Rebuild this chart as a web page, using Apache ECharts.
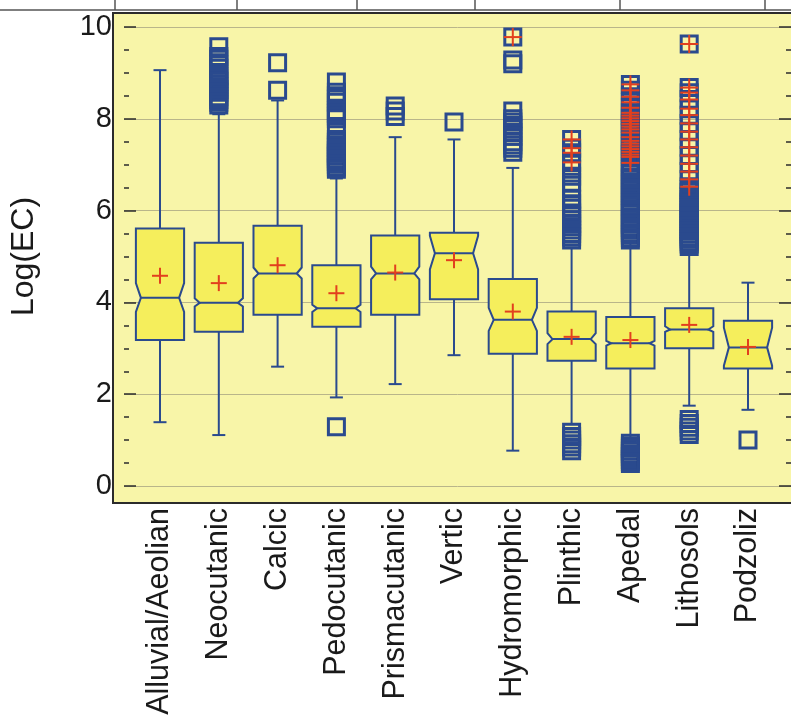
<!DOCTYPE html>
<html>
<head>
<meta charset="utf-8">
<script src="https://cdn.jsdelivr.net/npm/echarts@6/dist/echarts.min.js"></script>
<style>
  html, body { margin: 0; padding: 0; background: #ffffff; }
  #chart { width: 791px; height: 722px; }
</style>
</head>
<body>
<div id="chart"></div>
<script>
// Soil groups and their Log(EC) distributions (notched box plots)
const categories = ['Alluvial/Aeolian', 'Neocutanic', 'Calcic', 'Pedocutanic', 'Prismacutanic',
  'Vertic', 'Hydromorphic', 'Plinthic', 'Apedal', 'Lithosols', 'Podzoliz'];

const whiskerLow  = [1.39, 1.11, 2.60, 1.93, 2.22, 2.85, 0.77, 1.35, 0.98, 1.75, 1.66];
const q1          = [3.18, 3.36, 3.73, 3.47, 3.73, 4.07, 2.88, 2.73, 2.56, 3.00, 2.56];
const median      = [4.10, 3.99, 4.63, 3.87, 4.63, 5.07, 3.62, 3.20, 3.11, 3.41, 3.02];
const q3          = [5.61, 5.30, 5.67, 4.81, 5.46, 5.52, 4.51, 3.80, 3.68, 3.87, 3.60];
const whiskerHigh = [9.06, 8.10, 8.40, 6.70, 7.60, 7.55, 6.93, 5.20, 5.30, 5.15, 4.43];
const notchLow    = [3.79, 3.91, 4.52, 3.79, 4.50, 4.72, 3.38, 3.09, 3.06, 3.36, 2.62];
const notchHigh   = [4.42, 4.09, 4.76, 3.95, 4.78, 5.45, 3.88, 3.33, 3.16, 3.48, 3.45];
const mean        = [4.58, 4.42, 4.81, 4.20, 4.65, 4.92, 3.80, 3.25, 3.18, 3.51, 3.03];

// Outside points (beyond 1.5 IQR)
const outside = [
  [],
  [9.57, 9.36, 9.30, 9.17, 9.10, 8.93, 8.88, 8.82, 8.76, 8.70, 8.64, 8.58, 8.48, 8.42, 8.36, 8.30],
  [9.22, 8.62],
  [8.80, 8.58, 8.50, 8.43, 8.36, 8.18, 8.12, 8.06, 8.00, 7.76, 7.55, 7.49, 7.43, 7.37, 7.31,
   7.25, 7.19, 7.13, 7.07, 7.01, 6.95, 6.90, 1.29],
  [8.28, 8.17, 8.05],
  [7.93],
  [9.28, 9.20, 8.17, 8.00, 7.93, 7.86, 7.78, 7.70, 7.62, 7.50, 7.43, 7.36, 7.27],
  [6.90, 6.75, 6.62, 6.47, 6.25, 6.15, 6.05, 5.95, 5.88, 5.80, 5.72, 5.65, 5.58, 5.50, 5.43, 5.36,
   1.17, 1.08, 1.00, 0.92, 0.85, 0.77],
  [6.97, 6.91, 6.86, 6.80, 6.73, 6.69, 6.62, 6.57, 6.50, 6.45, 6.39, 6.33, 6.28, 6.21, 6.16,
   6.10, 6.04, 5.99, 5.93, 5.86, 5.81, 5.75, 5.70, 5.63, 5.58, 5.52, 5.47, 5.41, 5.36,
   0.93, 0.87, 0.82, 0.76, 0.70, 0.64, 0.58, 0.53, 0.49],
  [6.46, 6.40, 6.30, 6.24, 6.18, 6.12, 6.06, 6.00, 5.95, 5.89, 5.83, 5.78, 5.72, 5.66, 5.60,
   5.55, 5.49, 5.43, 5.38, 5.32, 5.27, 5.22, 1.45, 1.36, 1.28, 1.20, 1.12],
  [1.00]
];

// Far outside points (beyond 3 IQR), drawn with a cross inside the square
const farOutside = [
  [], [], [], [], [], [],
  [9.78],
  [7.55, 7.36, 7.26, 7.05],
  [8.75, 8.62, 8.48, 8.36, 8.24, 8.13, 8.07, 8.01, 7.95, 7.89, 7.83, 7.77, 7.70,
   7.60, 7.52, 7.46, 7.40, 7.34, 7.28, 7.22, 7.17, 7.04],
  [9.63, 8.68, 8.57, 8.42, 8.22, 8.08, 7.90, 7.72, 7.55, 7.38, 7.20, 7.02, 6.85, 6.68, 6.52],
  []
];

const BLUE = '#2a4a8e';
const BOX_FILL = '#f5ee5c';
const PLOT_BG = '#f8f5a8';
const RED = '#e2401e';

const boxData = categories.map((c, i) => [i, whiskerLow[i], q1[i], median[i], q3[i], whiskerHigh[i],
  notchLow[i], notchHigh[i], mean[i]]);

const outsidePts = [];
outside.forEach((arr, i) => arr.forEach(v => outsidePts.push([i, v])));
const farPts = [];
farOutside.forEach((arr, i) => arr.forEach(v => farPts.push([i, v])));

function plusShape(x, y, h, color) {
  return {
    type: 'group',
    children: [
      { type: 'line', shape: { x1: x - h, y1: y, x2: x + h, y2: y }, style: { stroke: color, lineWidth: 2 } },
      { type: 'line', shape: { x1: x, y1: y - h, x2: x, y2: y + h }, style: { stroke: color, lineWidth: 2 } }
    ]
  };
}

function renderBox(params, api) {
  const i = api.value(0);
  const cx = api.coord([i, 0])[0];
  const y = v => api.coord([i, v])[1];
  const w = api.size([1, 0])[0] * 0.82;
  const l = cx - w / 2, r = cx + w / 2;
  const inset = 5;
  const yWl = y(api.value(1)), yQ1 = y(api.value(2)), yMed = y(api.value(3)), yQ3 = y(api.value(4));
  const yWh = y(api.value(5)), yNl = y(api.value(6)), yNh = y(api.value(7)), yMean = y(api.value(8));
  const cap = 6.5;
  const ls = { stroke: BLUE, lineWidth: 2 };
  return {
    type: 'group',
    children: [
      { type: 'line', shape: { x1: cx, y1: yQ3, x2: cx, y2: yWh }, style: ls },
      { type: 'line', shape: { x1: cx - cap, y1: yWh, x2: cx + cap, y2: yWh }, style: ls },
      { type: 'line', shape: { x1: cx, y1: yQ1, x2: cx, y2: yWl }, style: ls },
      { type: 'line', shape: { x1: cx - cap, y1: yWl, x2: cx + cap, y2: yWl }, style: ls },
      {
        type: 'polygon',
        shape: {
          points: [[l, yQ3], [r, yQ3], [r, yNh], [r - inset, yMed], [r, yNl], [r, yQ1],
                   [l, yQ1], [l, yNl], [l + inset, yMed], [l, yNh]]
        },
        style: { fill: BOX_FILL, stroke: BLUE, lineWidth: 2, lineJoin: 'miter' }
      },
      { type: 'line', shape: { x1: l + inset, y1: yMed, x2: r - inset, y2: yMed }, style: ls },
      plusShape(cx, yMean, 8, RED)
    ]
  };
}

function renderFarCross(params, api) {
  const p = api.coord([api.value(0), api.value(1)]);
  return plusShape(p[0], p[1], 9, RED);
}

const chart = echarts.init(document.getElementById('chart'), null, { renderer: 'canvas' });

const tableCols = [115, 237, 357, 475, 620, 765];

chart.setOption({
  animation: false,
  backgroundColor: '#ffffff',
  textStyle: { fontFamily: 'Liberation Sans' },
  graphic: [
    {
      type: 'rect', z: -100, silent: true,
      shape: { x: 113, y: 13, width: 700, height: 490 },
      style: { fill: PLOT_BG, stroke: '#2b2b2b', lineWidth: 2 }
    },
    {
      type: 'line', z: -100, silent: true,
      shape: { x1: 0, y1: 10, x2: 791, y2: 10 },
      style: { stroke: '#555555', lineWidth: 1.5 }
    }
  ].concat(tableCols.map(x => ({
    type: 'line', z: -100, silent: true,
    shape: { x1: x, y1: 0, x2: x, y2: 10 },
    style: { stroke: '#555555', lineWidth: 1.5 }
  }))),
  grid: [
    { left: 113, right: 0, top: 27, bottom: 236 },
    { left: 130.6, right: 13.6, top: 27, bottom: 236 }
  ],
  xAxis: [
    { type: 'value', gridIndex: 0, show: false, min: 0, max: 1 },
    {
      type: 'category', gridIndex: 1, data: categories,
      axisLine: { show: false }, axisTick: { show: false },
      axisLabel: { rotate: 90, fontSize: 30.5, color: '#1a1a1a', margin: 22, interval: 0,
                   padding: [0, 0, 8, 0], fontFamily: 'Liberation Sans' }
    }
  ],
  yAxis: [
    {
      type: 'value', gridIndex: 0, min: 0, max: 10, interval: 2,
      name: 'Log(EC)', nameLocation: 'middle', nameGap: 84,
      nameTextStyle: { fontSize: 32, color: '#1a1a1a', fontFamily: 'Liberation Sans' },
      axisLine: { show: false },
      axisTick: { show: true, inside: true, length: 12, lineStyle: { color: '#2b2b2b', width: 1.5 } },
      minorTick: { show: true, splitNumber: 4, length: 5, lineStyle: { color: '#2b2b2b', width: 1.5 } },
      splitLine: { show: true, lineStyle: { color: '#b9b58a', width: 1 } },
      axisLabel: { fontSize: 29, color: '#1a1a1a', margin: 12, fontFamily: 'Liberation Sans' }
    },
    {
      type: 'value', gridIndex: 0, position: 'right', min: 0, max: 10, interval: 2,
      axisLine: { show: false },
      axisTick: { show: true, inside: true, length: 12, lineStyle: { color: '#2b2b2b', width: 1.5 } },
      minorTick: { show: true, splitNumber: 4, length: 5, lineStyle: { color: '#2b2b2b', width: 1.5 } },
      splitLine: { show: false },
      axisLabel: { show: false }
    },
    { type: 'value', gridIndex: 1, min: 0, max: 10, show: false }
  ],
  series: [
    {
      type: 'custom', xAxisIndex: 1, yAxisIndex: 2, z: 3,
      renderItem: renderBox,
      encode: { x: 0, y: [1, 2, 3, 4, 5] },
      data: boxData
    },
    {
      type: 'scatter', xAxisIndex: 1, yAxisIndex: 2, z: 4,
      symbol: 'rect', symbolSize: 16,
      itemStyle: { color: 'rgba(0,0,0,0)', borderColor: BLUE, borderWidth: 3, opacity: 1 },
      data: outsidePts
    },
    {
      type: 'scatter', xAxisIndex: 1, yAxisIndex: 2, z: 4,
      symbol: 'rect', symbolSize: 16,
      itemStyle: { color: 'rgba(0,0,0,0)', borderColor: BLUE, borderWidth: 3, opacity: 1 },
      data: farPts
    },
    {
      type: 'custom', xAxisIndex: 1, yAxisIndex: 2, z: 5,
      renderItem: renderFarCross,
      data: farPts
    }
  ]
});
</script>
</body>
</html>
